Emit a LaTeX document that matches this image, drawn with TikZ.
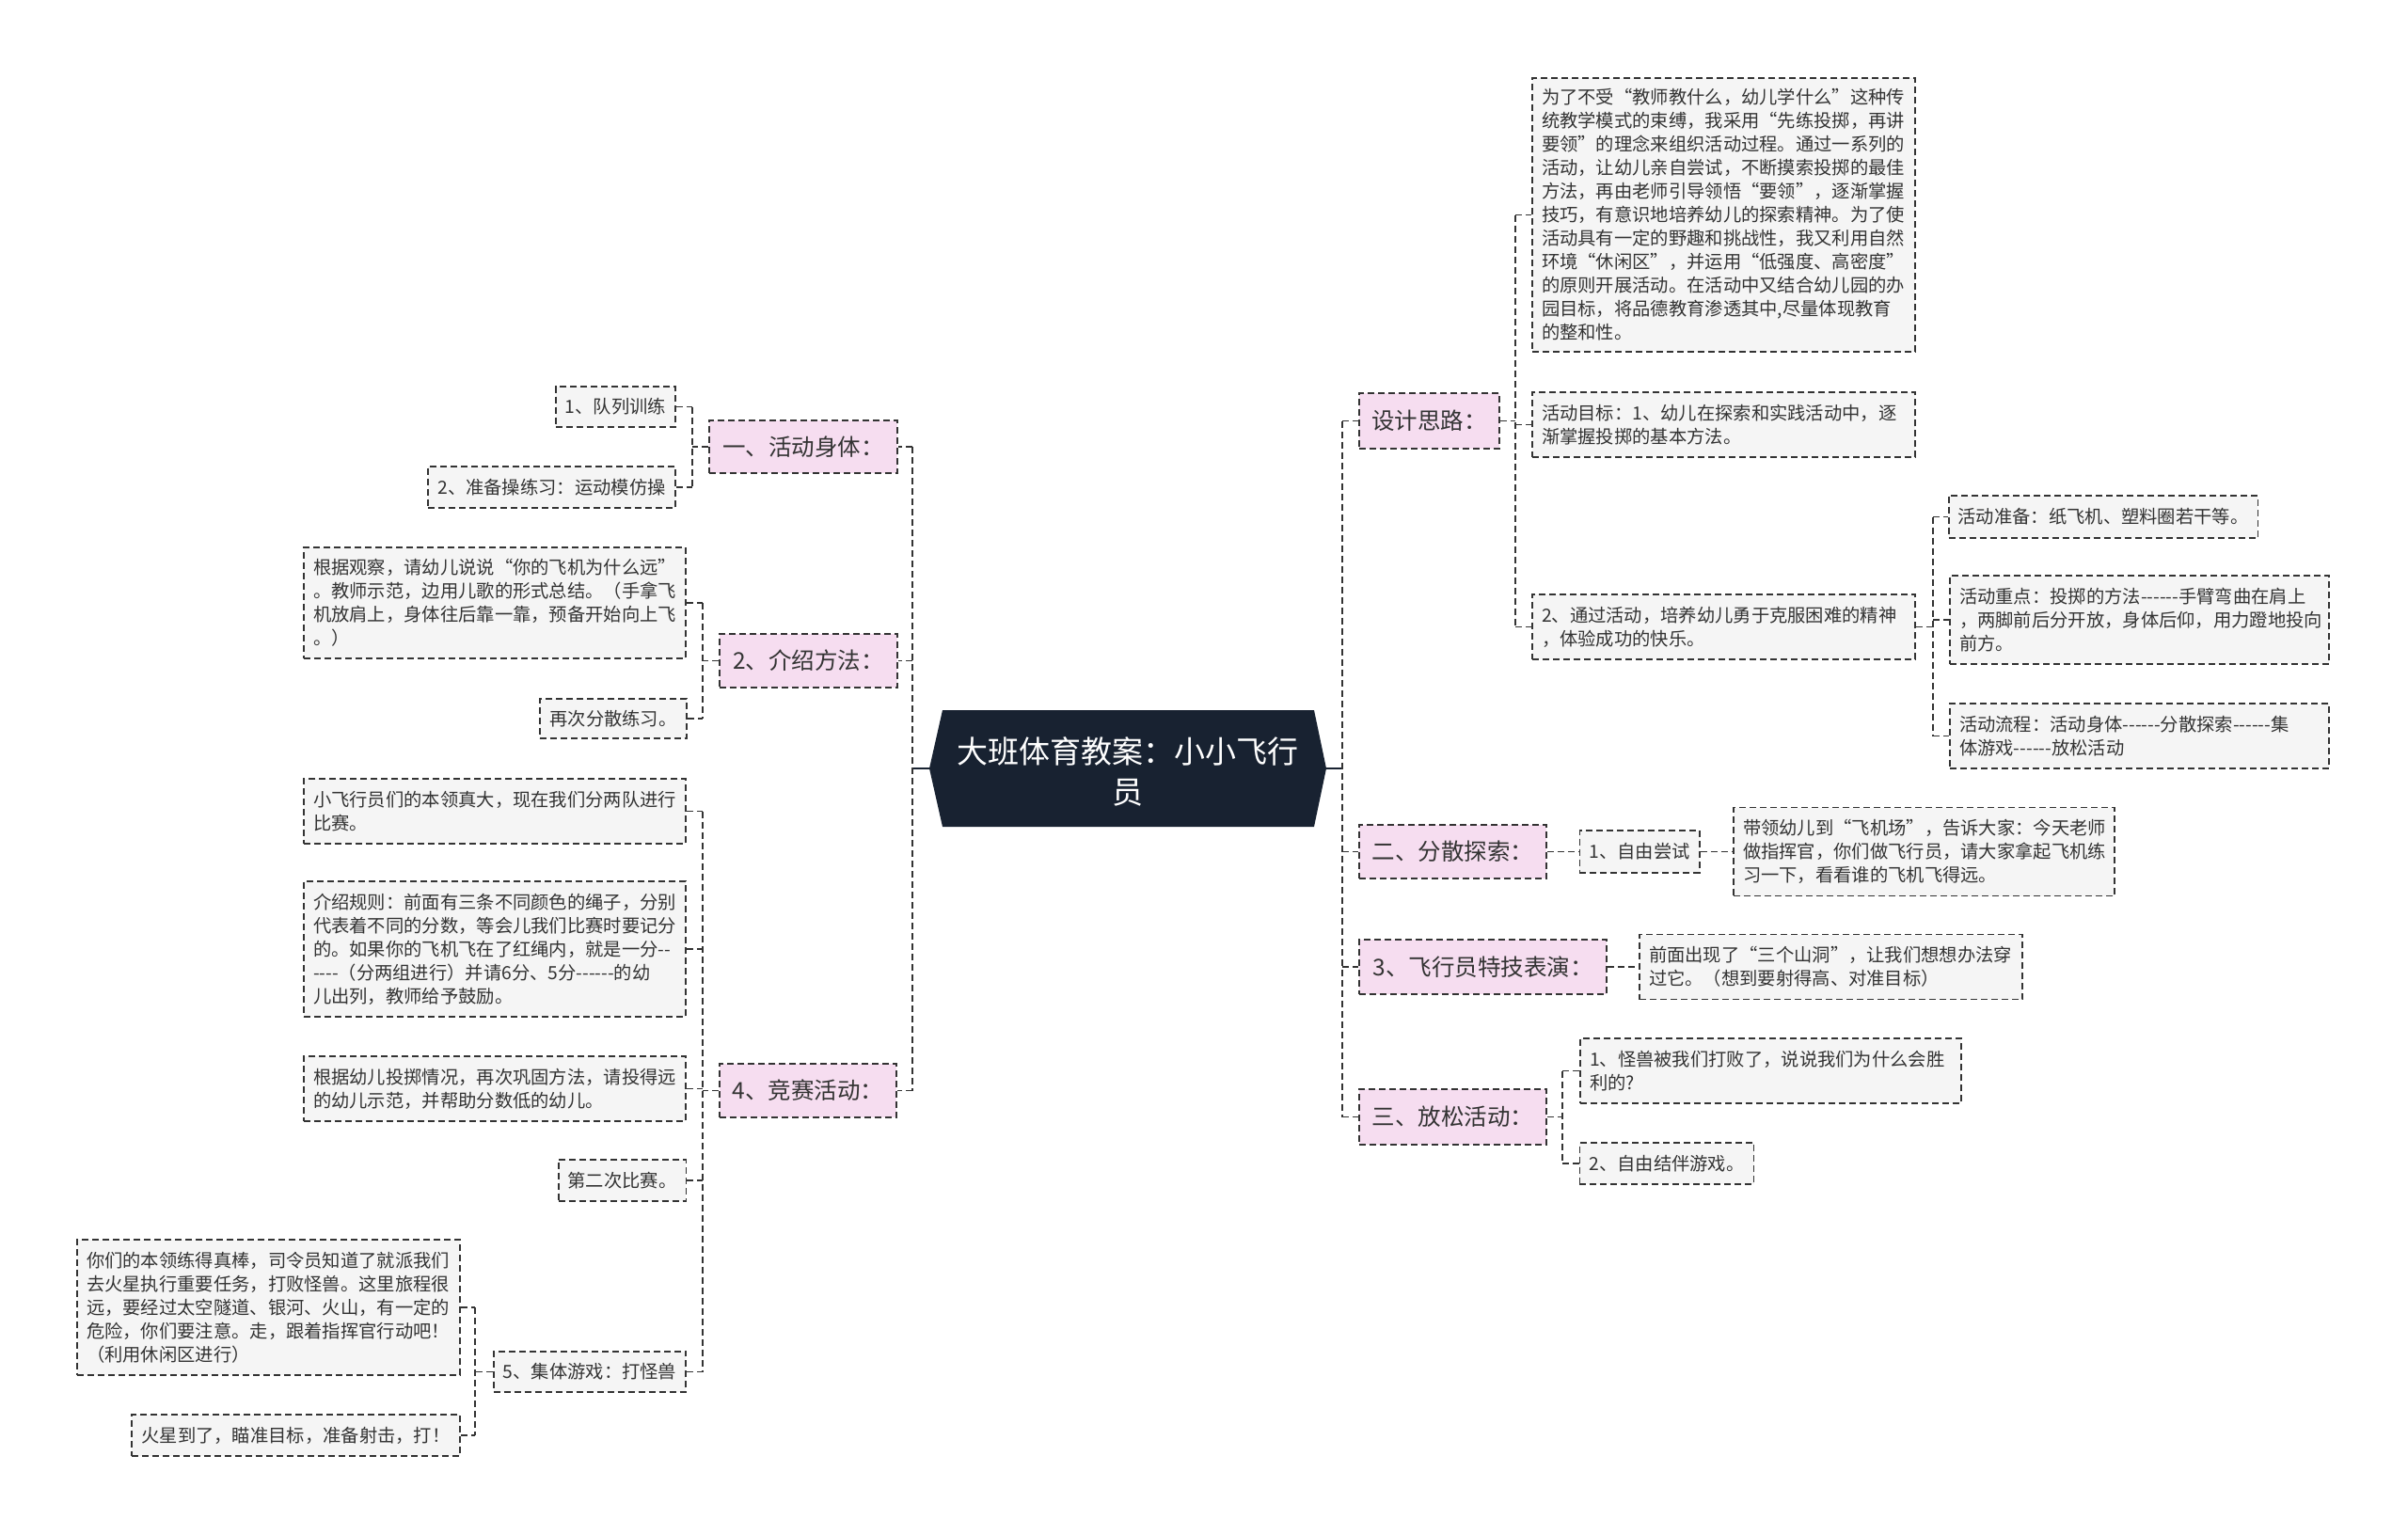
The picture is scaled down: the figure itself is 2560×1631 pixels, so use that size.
\documentclass[tikz,border=0pt]{standalone}
\usepackage{fontspec}
\setmainfont{Noto Sans CJK SC}
\definecolor{pinkf}{RGB}{246,221,240}
\definecolor{grayf}{RGB}{245,245,245}
\definecolor{linec}{RGB}{51,51,51}
\definecolor{rootf}{RGB}{24,34,49}
\definecolor{txt}{RGB}{51,51,51}
\newcommand\hy{-\kern0pt}
\exhyphenpenalty=10000
\hyphenpenalty=10000
\tikzset{
  box/.style={draw=linec, line width=1.8pt, dash pattern=on 7pt off 4pt, text=txt, inner xsep=10pt, inner ysep=0pt, align=left},
  topic/.style={box, fill=pinkf, font=\fontsize{24.5}{30}\selectfont, align=center},
  leaf/.style={box, fill=grayf, font=\fontsize{19.3}{25}\selectfont},
  conn/.style={draw=linec, line width=1.8pt, dash pattern=on 7pt off 4pt},
  rootline/.style={draw=rootf, line width=2.5pt},
  roottext/.style={text=white, font=\fontsize{33}{43}\selectfont, align=center, inner sep=0pt}
}
\begin{document}
\begin{tikzpicture}[x=1pt,y=-1pt]
\useasboundingbox[fill=white] (0,0) rectangle (2560,1631);

% root
\fill[rootf] (988,817) -- (1002,755) -- (1397,755) -- (1410,817) -- (1397,879) -- (1002,879) -- cycle;
\node[roottext] (root) at (1199,820) {大班体育教案：小小飞行\\员};
\coordinate (rootW) at (988,817);
\coordinate (rootE) at (1410,817);
\coordinate (TL) at (970,0);
\coordinate (TR) at (1427,0);

% right topics
\node[topic, minimum width=149, minimum height=59] (d1) at (1519.5,447.5) {设计思路：};
\node[topic, minimum width=199, minimum height=57] (d2) at (1544.5,905.5) {二、分散探索：};
\node[topic, minimum width=263, minimum height=58] (d3) at (1576.5,1028) {3、飞行员特技表演：};
\node[topic, minimum width=199, minimum height=59] (d4) at (1544.5,1187.5) {三、放松活动：};

% left topics
\node[topic, minimum width=200, minimum height=56] (l1) at (854,475) {一、活动身体：};
\node[topic, minimum width=189, minimum height=57] (l2) at (859.5,702.5) {2、介绍方法：};
\node[topic, minimum width=188, minimum height=57] (l3) at (859,1159.5) {4、竞赛活动：};

% design children
\node[leaf, text width=387, minimum height=291] (a1) at (1832.5,228.5) {为了不受“教师教什么，幼儿学什么”这种传\\统教学模式的束缚，我采用“先练投掷，再讲\\要领”的理念来组织活动过程。通过一系列的\\活动，让幼儿亲自尝试，不断摸索投掷的最佳\\方法，再由老师引导领悟“要领”，逐渐掌握\\技巧，有意识地培养幼儿的探索精神。为了使\\活动具有一定的野趣和挑战性，我又利用自然\\环境“休闲区”，并运用“低强度、高密度”\\的原则开展活动。在活动中又结合幼儿园的办\\园目标，将品德教育渗透其中,尽量体现教育\\的整和性。};
\node[leaf, text width=387, minimum height=69] (a2) at (1832.5,451.5) {活动目标：1、幼儿在探索和实践活动中，逐\\渐掌握投掷的基本方法。};
\node[leaf, text width=387, minimum height=69] (a3) at (1832.5,666.5) {2、通过活动，培养幼儿勇于克服困难的精神\\，体验成功的快乐。};
\node[leaf, minimum width=326, minimum height=45] (b1) at (2236,549.5) {活动准备：纸飞机、塑料圈若干等。};
\node[leaf, text width=383, minimum height=94] (b2) at (2274.5,659) {活动重点：投掷的方法\hy\hy\hy\hy\hy\hy 手臂弯曲在肩上\\，两脚前后分开放，身体后仰，用力蹬地投向\\前方。};
\node[leaf, text width=383, minimum height=69] (b3) at (2274.5,782.5) {活动流程：活动身体\hy\hy\hy\hy\hy\hy 分散探索\hy\hy\hy\hy\hy\hy 集\\体游戏\hy\hy\hy\hy\hy\hy 放松活动};

% d2 children
\node[leaf, minimum width=126, minimum height=45] (c1) at (1743,905.5) {1、自由尝试};
\node[leaf, text width=385, minimum height=94] (c2) at (2045.5,905.5) {带领幼儿到“飞机场”，告诉大家：今天老师\\做指挥官，你们做飞行员，请大家拿起飞机练\\习一下，看看谁的飞机飞得远。};

% d3 child
\node[leaf, text width=387, minimum height=69] (e1) at (1946.5,1028) {前面出现了“三个山洞”，让我们想想办法穿\\过它。（想到要射得高、对准目标）};

% d4 children
\node[leaf, text width=385, minimum height=69] (f1) at (1882.5,1138.5) {1、怪兽被我们打败了，说说我们为什么会胜\\利的?};
\node[leaf, minimum width=184, minimum height=44] (f2) at (1772,1237) {2、自由结伴游戏。};

% l1 children
\node[leaf, minimum width=127, minimum height=43] (g1) at (654.5,432.5) {1、队列训练};
\node[leaf, minimum width=263, minimum height=44] (g2) at (586.5,518) {2、准备操练习：运动模仿操};

% l2 children
\node[leaf, text width=386, minimum height=118] (h1) at (526,641) {根据观察，请幼儿说说“你的飞机为什么远”\\。教师示范，边用儿歌的形式总结。（手拿飞\\机放肩上，身体往后靠一靠，预备开始向上飞\\。）};
\node[leaf, minimum width=156, minimum height=42] (h2) at (652,764) {再次分散练习。};

% l3 children
\node[leaf, text width=386, minimum height=69] (k1) at (526,862.5) {小飞行员们的本领真大，现在我们分两队进行\\比赛。};
\node[leaf, text width=386, minimum height=144] (k2) at (526,1009) {介绍规则：前面有三条不同颜色的绳子，分别\\代表着不同的分数，等会儿我们比赛时要记分\\的。如果你的飞机飞在了红绳内，就是一分\hy -\\\hy\hy\hy -（分两组进行）并请6分、5分\hy\hy\hy\hy\hy\hy 的幼\\儿出列，教师给予鼓励。};
\node[leaf, text width=386, minimum height=69] (k3) at (526,1157.5) {根据幼儿投掷情况，再次巩固方法，请投得远\\的幼儿示范，并帮助分数低的幼儿。};
\node[leaf, minimum width=135, minimum height=44] (k4) at (661.5,1255) {第二次比赛。};
\node[leaf, minimum width=204, minimum height=43] (k5) at (627,1458.5) {5、集体游戏：打怪兽};

% k5 children
\node[leaf, text width=387, minimum height=144] (m1) at (285.5,1390) {你们的本领练得真棒，司令员知道了就派我们\\去火星执行重要任务，打败怪兽。这里旅程很\\远，要经过太空隧道、银河、火山，有一定的\\危险，你们要注意。走，跟着指挥官行动吧！\\（利用休闲区进行）};
\node[leaf, minimum width=349, minimum height=44] (m2) at (314.5,1526) {火星到了，瞄准目标，准备射击，打！};

% trunk coordinates
\coordinate (T1) at (1611,0);
\coordinate (T2) at (2055,0);
\coordinate (T3) at (1661,0);
\coordinate (TG) at (736,0);
\coordinate (TH) at (747,0);
\coordinate (TK) at (747,0);
\coordinate (TM) at (505,0);

% root connectors
\draw[rootline] (rootW) -- (rootW -| TL);
\draw[rootline] (rootE) -- (rootE -| TR);

% right main trunk
\draw[conn] (d1.west -| TR) -- (d4.west -| TR);
\foreach \n in {d1,d2,d3,d4} \draw[conn] (\n.west -| TR) -- (\n.west);

% left main trunk
\draw[conn] (l1.east -| TL) -- (l3.east -| TL);
\foreach \n in {l1,l2,l3} \draw[conn] (\n.east -| TL) -- (\n.east);

% design thinking
\draw[conn] (d1.east) -- (d1.east -| T1);
\draw[conn] (a1.west -| T1) -- (a3.west -| T1);
\foreach \n in {a1,a2,a3} \draw[conn] (\n.west -| T1) -- (\n.west);

% a3 children
\draw[conn] (a3.east) -- (a3.east -| T2);
\draw[conn] (b1.west -| T2) -- (b3.west -| T2);
\foreach \n in {b1,b2,b3} \draw[conn] (\n.west -| T2) -- (\n.west);

% d2 chain
\draw[conn] (d2.east) -- (c1.west);
\draw[conn] (c1.east) -- (c2.west);

% d3
\draw[conn] (d3.east) -- (e1.west);

% d4
\draw[conn] (d4.east) -- (d4.east -| T3);
\draw[conn] (f1.west -| T3) -- (f2.west -| T3);
\foreach \n in {f1,f2} \draw[conn] (\n.west -| T3) -- (\n.west);

% l1
\draw[conn] (l1.west) -- (l1.west -| TG);
\draw[conn] (g1.east -| TG) -- (g2.east -| TG);
\foreach \n in {g1,g2} \draw[conn] (\n.east) -- (\n.east -| TG);

% l2
\draw[conn] (l2.west) -- (l2.west -| TH);
\draw[conn] (h1.east -| TH) -- (h2.east -| TH);
\foreach \n in {h1,h2} \draw[conn] (\n.east) -- (\n.east -| TH);

% l3
\draw[conn] (l3.west) -- (l3.west -| TK);
\draw[conn] (k1.east -| TK) -- (k5.east -| TK);
\foreach \n in {k1,k2,k3,k4,k5} \draw[conn] (\n.east) -- (\n.east -| TK);

% k5
\draw[conn] (k5.west) -- (k5.west -| TM);
\draw[conn] (m1.east -| TM) -- (m2.east -| TM);
\foreach \n in {m1,m2} \draw[conn] (\n.east) -- (\n.east -| TM);
\end{tikzpicture}
\end{document}
